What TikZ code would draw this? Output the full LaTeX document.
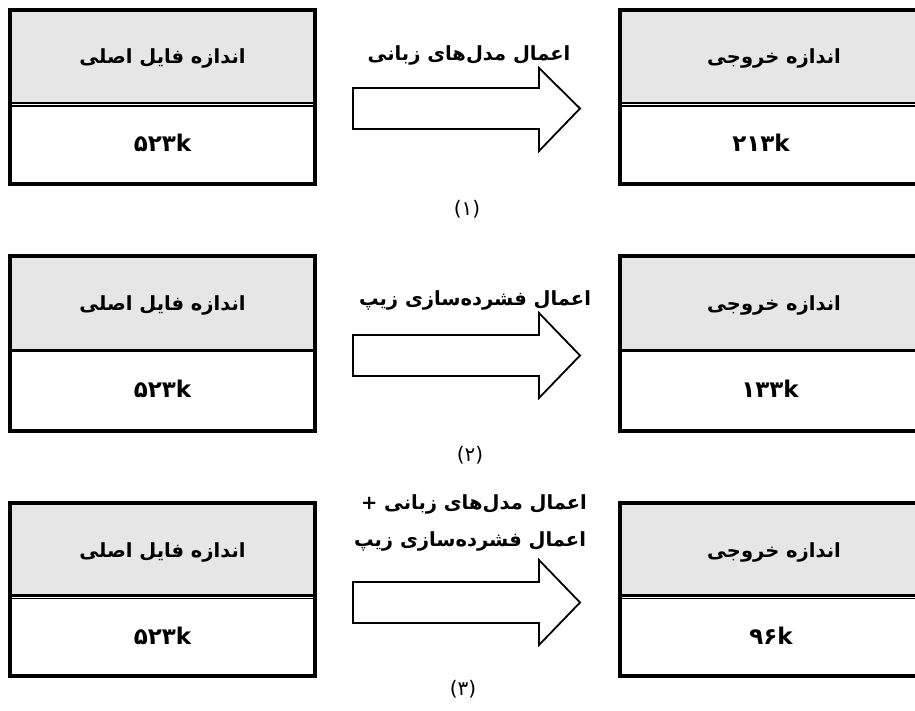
\documentclass[tikz,border=0pt]{standalone}
\usepackage{fontspec}
\newfontfamily\fa[Script=Arabic]{DejaVu Sans}
\TeXXeTstate=1
\definecolor{hdrgray}{HTML}{E6E6E6}
\begin{document}
\begin{tikzpicture}[x=1pt,y=-1pt,
  boxline/.style={draw=black,line width=4pt},
  sepline/.style={draw=black,line width=#1},
  txt/.style={font=\fa\bfseries\fontsize{19.5}{23}\selectfont,inner sep=0pt},
  numtxt/.style={font=\fa\bfseries\fontsize{23}{27}\selectfont,inner sep=0pt},
  captxt/.style={font=\fa\fontsize{20}{24}\selectfont,inner sep=0pt},
  blockarrow/.style={draw=black,line width=1.8pt,fill=white,line join=miter}]
\useasboundingbox (0,0) rectangle (915,711);
\clip (0,0) rectangle (915,711);

% ---------- row 1 ----------
\fill[hdrgray] (10,10) rectangle (315,103);
\fill[hdrgray] (620,10) rectangle (930,103);
\draw[sepline=2.4pt] (10,102.8) -- (315,102.8);
\draw[sepline=1.3pt] (10,106) -- (315,106);
\draw[sepline=2.4pt] (620,102.8) -- (930,102.8);
\draw[sepline=1.3pt] (620,106) -- (930,106);
\draw[boxline] (10,10) rectangle (315,184);
\draw[boxline] (620,10) rectangle (930,184);
\node[txt] (h1l) at (162.5,58) {\beginR اندازه فایل اصلی\endR};
\node[numtxt] (v1l) at (162.5,143) {۵۲۳k};
\node[txt] (h1r) at (774,58) {\beginR اندازه خروجی\endR};
\node[numtxt] (v1r) at (761,143) {۲۱۳k};
\draw[blockarrow] (353,88) -- (539,88) -- (539,68) -- (580,108.5) -- (539,151) -- (539,129) -- (353,129) -- cycle;
\node[txt] (a1) at (469,55) {\beginR اعمال مدل‌های زبانی\endR};
\node[captxt] (c1) at (467,209) {(۱)};

% ---------- row 2 ----------
\fill[hdrgray] (10,256) rectangle (315,350.5);
\fill[hdrgray] (620,256) rectangle (930,350.5);
\draw[sepline=3pt] (10,350.5) -- (315,350.5);
\draw[sepline=3pt] (620,350.5) -- (930,350.5);
\draw[boxline] (10,256) rectangle (315,430.5);
\draw[boxline] (620,256) rectangle (930,430.5);
\node[txt] (h2l) at (162.5,305) {\beginR اندازه فایل اصلی\endR};
\node[numtxt] (v2l) at (162.5,389) {۵۲۳k};
\node[txt] (h2r) at (774,305) {\beginR اندازه خروجی\endR};
\node[numtxt] (v2r) at (770,389) {۱۳۳k};
\draw[blockarrow] (353,335) -- (539,335) -- (539,313) -- (580,355.5) -- (539,398) -- (539,376) -- (353,376) -- cycle;
\node[txt] (a2) at (475,300) {\beginR اعمال فشرده‌سازی زیپ\endR};
\node[captxt] (c2) at (470,455) {(۲)};

% ---------- row 3 ----------
\fill[hdrgray] (10,503) rectangle (315,596);
\fill[hdrgray] (620,503) rectangle (930,596);
\draw[sepline=2.4pt] (10,595.5) -- (315,595.5);
\draw[sepline=1.3pt] (10,598.7) -- (315,598.7);
\draw[sepline=2.4pt] (620,595.5) -- (930,595.5);
\draw[sepline=1.3pt] (620,598.7) -- (930,598.7);
\draw[boxline] (10,503) rectangle (315,676);
\draw[boxline] (620,503) rectangle (930,676);
\node[txt] (h3l) at (162.5,552) {\beginR اندازه فایل اصلی\endR};
\node[numtxt] (v3l) at (162.5,636) {۵۲۳k};
\node[txt] (h3r) at (774,552) {\beginR اندازه خروجی\endR};
\node[numtxt] (v3r) at (771,636) {۹۶k};
\draw[blockarrow] (353,582) -- (539,582) -- (539,560) -- (580,602.5) -- (539,645) -- (539,623) -- (353,623) -- cycle;
\node[txt] (a3a) at (474,504) {\beginR اعمال مدل‌های زبانی +\endR};
\node[txt] (a3b) at (470,541) {\beginR اعمال فشرده‌سازی زیپ\endR};
\node[captxt] (c3) at (463,689) {(۳)};
\end{tikzpicture}
\end{document}
